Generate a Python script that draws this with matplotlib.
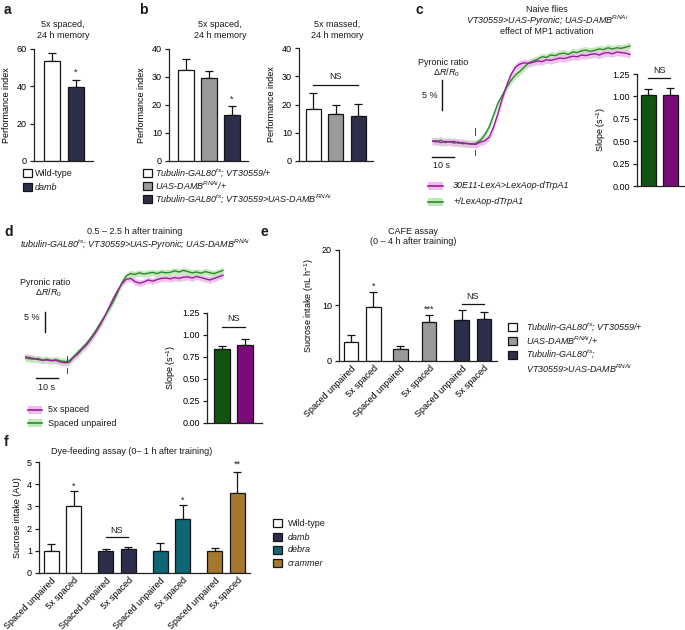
import numpy as np
import matplotlib
matplotlib.use('Agg')
import matplotlib.pyplot as plt
from matplotlib.patches import Rectangle

plt.rcParams['font.family'] = ['Liberation Sans', 'DejaVu Sans']
plt.rcParams['font.size'] = 6.5
plt.rcParams['mathtext.fontset'] = 'custom'
plt.rcParams['mathtext.rm'] = 'Liberation Sans'
plt.rcParams['mathtext.it'] = 'Liberation Sans:italic'
plt.rcParams['mathtext.bf'] = 'Liberation Sans:bold'
plt.rcParams['axes.linewidth'] = 0.9
plt.rcParams['text.color'] = '#1a1a1a'

# ---------------- data ----------------
a_labels = ['Wild-type', 'damb']
a_means = [53.5, 39.5]
a_errs = [4.5, 4.0]

b_labels = [r'Tubulin-GAL80$^{ts}$; VT30559/+', r'UAS-DAMB$^{RNAi}$/+',
            r'Tubulin-GAL80$^{ts}$; VT30559>UAS-DAMB$^{RNAi}$']
b_spaced_means = [32.5, 29.5, 16.3]
b_spaced_errs = [3.8, 2.5, 3.2]
b_massed_means = [18.5, 16.5, 15.8]
b_massed_errs = [5.5, 3.5, 4.5]

trace_time = np.arange(0, 92, 2)
c_green = [0.2, 0.0, 0.3, -0.1, 0.1, -0.2, 0.0, -0.3, -0.2, -0.4,
           -0.2, 0.3, 1.2, 2.5, 4.5, 6.5, 7.8, 9.2, 10.3, 11.2,
           11.8, 12.5, 13.2, 13.5, 13.8, 14.2, 14.1, 14.5, 14.4, 14.7,
           14.8, 14.6, 15.0, 14.9, 15.2, 15.3, 15.1, 15.3, 15.5, 15.4,
           15.7, 15.5, 15.7, 15.6, 15.8, 16.0]
c_purple = [0.1, 0.2, -0.1, 0.1, 0.0, 0.1, -0.2, -0.1, -0.3, -0.3,
            -0.4, 0.0, 0.2, 0.8, 2.5, 4.8, 7.3, 9.5, 11.3, 12.5,
            13.0, 13.2, 13.1, 13.3, 13.5, 13.4, 13.7, 13.6, 13.8, 14.0,
            13.9, 14.1, 14.3, 14.2, 14.5, 14.4, 14.6, 14.7, 14.5, 14.8,
            14.9, 14.7, 15.0, 14.9, 14.8, 14.6]
c_sem = 0.6
c_labels = ['30E11-LexA>LexAop-dTrpA1', '+/LexAop-dTrpA1']
c_slope_means = [1.02, 1.02]
c_slope_errs = [0.06, 0.07]

d_green = [0.5, 0.3, 0.2, 0.4, 0.0, 0.2, -0.1, 0.1, -0.2, -0.4,
           -0.3, 0.8, 1.9, 3.0, 4.2, 5.6, 7.2, 9.0, 10.8, 12.6,
           14.5, 16.8, 19.3, 21.0, 21.6, 21.4, 21.8, 21.5, 21.7, 21.9,
           21.6, 22.0, 21.8, 21.9, 22.3, 22.0, 22.4, 22.1, 21.8, 22.0,
           21.7, 22.1, 21.8, 21.6, 22.0, 22.4]
d_purple = [0.8, 0.6, 0.4, 0.1, -0.1, 0.0, -0.2, -0.1, -0.5, -0.7,
            -0.6, 0.6, 1.5, 2.7, 3.8, 5.2, 6.8, 8.6, 10.6, 12.9,
            15.2, 17.3, 19.0, 20.2, 20.4, 19.6, 19.2, 19.5, 20.0, 19.7,
            20.1, 20.4, 20.5, 20.3, 20.6, 20.4, 20.7, 20.8, 20.5, 20.9,
            20.6, 20.3, 20.0, 20.4, 20.8, 21.2]
d_sem = 0.8
d_labels = ['5x spaced', 'Spaced unpaired']
d_slope_means = [0.84, 0.89]
d_slope_errs = [0.04, 0.07]

e_ticklabels = ['Spaced unpaired', '5x spaced'] * 3
e_means = [3.5, 9.7, 2.2, 7.1, 7.3, 7.5]
e_errs = [1.2, 2.8, 0.5, 1.2, 1.8, 1.4]
e_labels = [r'Tubulin-GAL80$^{ts}$; VT30559/+', r'UAS-DAMB$^{RNAi}$/+',
            'Tubulin-GAL80$^{ts}$;\nVT30559>UAS-DAMB$^{RNAi}$']

f_ticklabels = ['Spaced unpaired', '5x spaced'] * 4
f_means = [1.0, 3.0, 1.0, 1.1, 1.0, 2.45, 1.0, 3.62]
f_errs = [0.3, 0.7, 0.08, 0.07, 0.35, 0.6, 0.13, 0.95]
f_labels = ['Wild-type', 'damb', 'debra', 'crammer']

# ---------------- style ----------------
WHITE, GRAY, NAVY = '#ffffff', '#9a9a9a', '#2c2e4c'
TEAL, BROWN = '#0f6775', '#a5782f'
DGREEN, DPURPLE = '#115511', '#7a0c7a'
TGREEN, TPURPLE = '#2c8a2c', '#9c1c9c'
SGREEN, SPURPLE = '#bfe6b8', '#ebbdeb'
EDGE = '#151515'

W, H = 685, 630
fig = plt.figure(figsize=(W / 100, H / 100), dpi=100)
ov = fig.add_axes([0, 0, 1, 1])
ov.set_xlim(0, W)
ov.set_ylim(H, 0)
ov.axis('off')


def pax(l, t, r, b):
    ax = fig.add_axes([l / W, 1 - b / H, (r - l) / W, (b - t) / H])
    ax.set_facecolor('none')
    return ax


def bar_panel(ax, pos, means, errs, colors, ylim, yticks, xlim, width, fmt=None):
    ax.bar(pos, means, width=width, color=colors, edgecolor=EDGE, linewidth=0.9, zorder=2)
    ax.errorbar(pos, means, yerr=[np.zeros(len(errs)), errs], fmt='none', ecolor=EDGE,
                elinewidth=0.9, capsize=2.6, capthick=0.9, zorder=1)
    ax.set_ylim(*ylim)
    ax.set_xlim(*xlim)
    ax.set_yticks(yticks)
    if fmt:
        ax.set_yticklabels([fmt.format(v) for v in yticks])
    for s in ['top', 'right']:
        ax.spines[s].set_visible(False)
    for s in ['left', 'bottom']:
        ax.spines[s].set_color('#222222')
    ax.tick_params(axis='y', length=3, width=0.9, pad=2, labelsize=6.5, color='#222222')
    ax.tick_params(axis='x', length=0, pad=2, labelsize=6.5)
    ax.set_xticks([])


def sig(ax, x, y, s, size=6.5):
    ax.text(x, y, s, ha='center', va='center', fontsize=size)


def ns(ax, x0, x1, y, ytext):
    ax.plot([x0, x1], [y, y], color=EDGE, lw=0.9, clip_on=False)
    ax.text((x0 + x1) / 2, ytext, 'NS', ha='center', va='center', fontsize=6.5)


def legend_patches(x, ys, colors, labels, styles, gap=3, w=9, h=8):
    for y, c, lab, st in zip(ys, colors, labels, styles):
        ov.add_patch(Rectangle((x, y - h / 2), w, h, facecolor=c, edgecolor=EDGE, lw=0.9))
        ov.text(x + w + gap, y, lab, ha='left', va='center', fontsize=6.5, style=st)


# ---------------- panel letters ----------------
for lab, (x, y) in zip('abcdef', [(4, 10), (139, 10), (416, 10), (4, 232), (261, 232), (4, 442)]):
    ov.text(x, y, lab, fontsize=10, fontweight='bold', ha='left', va='center')

# ---------------- panel a ----------------
ax = pax(34, 49, 93, 161)
bar_panel(ax, [0, 1], a_means, a_errs, [WHITE, NAVY], (0, 60), [0, 20, 40, 60],
          (-0.75, 1.71), 0.67)
ax.set_ylabel('Performance index', fontsize=6.5, labelpad=4)
sig(ax, 1, 47.5, '*')
ov.text(63, 30, '5x spaced,\n24 h memory', ha='center', va='center', fontsize=6.5, linespacing=1.35)
legend_patches(23, [173, 187], [WHITE, NAVY], a_labels, ['normal', 'italic'], gap=3)

# ---------------- panel b ----------------
ax = pax(169, 49, 248, 161)
bar_panel(ax, [0, 1, 2], b_spaced_means, b_spaced_errs, [WHITE, GRAY, NAVY], (0, 40),
          [0, 10, 20, 30, 40], (-0.74, 2.7), 0.7)
ax.set_ylabel('Performance index', fontsize=6.5, labelpad=4)
sig(ax, 2, 22.0, '*')
ov.text(220, 30, '5x spaced,\n24 h memory', ha='center', va='center', fontsize=6.5, linespacing=1.35)

ax = pax(299, 48, 373, 161)
bar_panel(ax, [0, 1, 2], b_massed_means, b_massed_errs, [WHITE, GRAY, NAVY], (0, 40),
          [0, 10, 20, 30, 40], (-0.65, 2.67), 0.67)
ax.set_ylabel('Performance index', fontsize=6.5, labelpad=4)
ns(ax, 0, 2, 27, 29.8)
ov.text(337, 30, '5x massed,\n24 h memory', ha='center', va='center', fontsize=6.5, linespacing=1.35)
legend_patches(143, [173, 186, 199], [WHITE, GRAY, NAVY], b_labels, ['italic'] * 3, gap=3)

# ---------------- panel c ----------------
ov.text(547, 9, 'Naive flies', ha='center', va='center', fontsize=6.5)
ov.text(547, 21, r'VT30559>UAS-Pyronic; UAS-DAMB$^{RNAi}$', ha='center', va='center',
        fontsize=6.5, style='italic')
ov.text(547, 32, 'effect of MP1 activation', ha='center', va='center', fontsize=6.5)

ax = pax(432, 40, 432 + 92 * 2.2, 154)
ax.axis('off')
ax.set_xlim(0, 92)
ax.set_ylim(-2, 17)
for vals, lc, sc in [(c_green, TGREEN, SGREEN), (c_purple, TPURPLE, SPURPLE)]:
    v = np.array(vals)
    ax.fill_between(trace_time, v - c_sem, v + c_sem, color=sc, lw=0, alpha=0.9)
for vals, lc in [(c_green, TGREEN), (c_purple, TPURPLE)]:
    ax.plot(trace_time, vals, color=lc, lw=1.0)
ax.plot([4.5, 4.5], [5.3, 10.3], color=EDGE, lw=1.0, clip_on=False)
ax.text(2.5, 7.8, '5 %', ha='right', va='center', fontsize=6.5)
ax.text(5.0, 13.3, 'Pyronic ratio', ha='center', va='center', fontsize=6.5)
ax.text(6.5, 11.5, r'$\Delta R/R_0$', ha='center', va='center', fontsize=6.5)
ax.plot([0, 10], [-2.5, -2.5], color=EDGE, lw=1.0, clip_on=False)
ax.text(0.3, -3.9, '10 s', ha='left', va='center', fontsize=6.5)
ax.plot([19.5, 19.5], [1.2, 2.3], color='#444444', lw=0.7, clip_on=False)
ax.plot([19.5, 19.5], [-1.3, -2.2], color='#444444', lw=0.7, clip_on=False)

ax = pax(637, 74, 685, 186)
bar_panel(ax, [0, 1], c_slope_means, c_slope_errs, [DGREEN, DPURPLE], (0, 1.25),
          [0, 0.25, 0.5, 0.75, 1.0, 1.25], (-0.52, 1.66), 0.68, fmt='{:.2f}')
ax.set_ylabel(r'Slope (s$^{-1}$)', fontsize=6.5, labelpad=3)
ns(ax, 0, 1, 1.205, 1.29)

for y, lc, sc, lab in zip([186, 202], [TPURPLE, TGREEN], [SPURPLE, SGREEN], c_labels):
    ov.add_patch(Rectangle((428, y - 4), 15, 8, facecolor=sc, edgecolor='none'))
    ov.plot([428, 443], [y, y], color=lc, lw=1.2)
    ov.text(453, y, lab, ha='left', va='center', fontsize=6.5, style='italic')

# ---------------- panel d ----------------
ov.text(135, 231, '0.5 – 2.5 h after training', ha='center', va='center', fontsize=6.5)
ov.text(135, 245, r'tubulin-GAL80$^{ts}$; VT30559>UAS-Pyronic; UAS-DAMB$^{RNAi}$',
        ha='center', va='center', fontsize=6.5, style='italic')

ax = pax(25, 264, 25 + 92 * 2.2, 372)
ax.axis('off')
ax.set_xlim(0, 92)
ax.set_ylim(-3, 24)
for vals, sc in [(d_purple, SPURPLE), (d_green, SGREEN)]:
    v = np.array(vals)
    ax.fill_between(trace_time, v - d_sem, v + d_sem, color=sc, lw=0, alpha=0.9)
for vals, lc in [(d_green, TGREEN), (d_purple, TPURPLE)]:
    ax.plot(trace_time, vals, color=lc, lw=1.0)
ax.plot([9.1, 9.1], [7.0, 12.0], color=EDGE, lw=1.0, clip_on=False)
ax.text(6.8, 10.5, '5 %', ha='right', va='center', fontsize=6.5)
ax.text(9.1, 19.3, 'Pyronic ratio', ha='center', va='center', fontsize=6.5)
ax.text(10.5, 16.8, r'$\Delta R/R_0$', ha='center', va='center', fontsize=6.5)
ax.plot([5, 15], [-4.5, -4.5], color=EDGE, lw=1.0, clip_on=False)
ax.text(10, -6.8, '10 s', ha='center', va='center', fontsize=6.5)
ax.plot([19, 19], [-0.3, 1.0], color='#444444', lw=0.7, clip_on=False)
ax.plot([19, 19], [-2.0, -3.3], color='#444444', lw=0.7, clip_on=False)

ax = pax(207, 313, 262, 423)
bar_panel(ax, [0, 1], d_slope_means, d_slope_errs, [DGREEN, DPURPLE], (0, 1.25),
          [0, 0.25, 0.5, 0.75, 1.0, 1.25], (-0.65, 1.74), 0.7, fmt='{:.2f}')
ax.set_ylabel(r'Slope (s$^{-1}$)', fontsize=6.5, labelpad=3)
ns(ax, 0, 1, 1.09, 1.19)

for y, lc, sc, lab in zip([410, 423], [TPURPLE, TGREEN], [SPURPLE, SGREEN], d_labels):
    ov.add_patch(Rectangle((28, y - 4), 14, 8, facecolor=sc, edgecolor='none'))
    ov.plot([28, 42], [y, y], color=lc, lw=1.2)
    ov.text(48, y, lab, ha='left', va='center', fontsize=6.5)

# ---------------- panel e ----------------
ov.text(413, 231, 'CAFE assay', ha='center', va='center', fontsize=6.5)
ov.text(413, 242, '(0 – 4 h after training)', ha='center', va='center', fontsize=6.5)
e_pos = [0, 1, 2.2, 3.48, 4.92, 5.92]
ax = pax(339, 250, 497, 361)
bar_panel(ax, e_pos, e_means, e_errs, [WHITE, WHITE, GRAY, GRAY, NAVY, NAVY], (0, 20),
          [0, 10, 20], (-0.53, 6.49), 0.64)
ax.set_xticks(e_pos)
ax.set_xticklabels(e_ticklabels, rotation=45, ha='right', rotation_mode='anchor', fontsize=6.5)
ax.set_ylabel(r'Sucrose intake (nL h$^{-1}$)', fontsize=6.5, labelpad=4)
sig(ax, e_pos[1], 13.5, '*')
sig(ax, e_pos[3], 9.4, '***')
ns(ax, e_pos[4], e_pos[5], 10.3, 11.7)
legend_patches(508, [327, 341, 355], [WHITE, GRAY, NAVY], e_labels[:2] + [''], ['italic'] * 3, gap=9)
ov.text(526, 361, e_labels[2], ha='left', va='center', fontsize=6.5, style='italic', linespacing=1.3)

# ---------------- panel f ----------------
ov.text(132, 452, 'Dye-feeding assay (0– 1 h after training)', ha='center', va='center', fontsize=6.5)
f_pos = [0, 1, 2.4, 3.4, 4.8, 5.8, 7.2, 8.2]
ax = pax(39, 462, 250, 573)
bar_panel(ax, f_pos, f_means, f_errs, [WHITE, WHITE, NAVY, NAVY, TEAL, TEAL, BROWN, BROWN],
          (0, 5), [0, 1, 2, 3, 4, 5], (-0.53, 8.75), 0.66)
ax.set_xticks(f_pos)
ax.set_xticklabels(f_ticklabels, rotation=45, ha='right', rotation_mode='anchor', fontsize=6.5)
ax.set_ylabel('Sucrose intake (AU)', fontsize=6.5, labelpad=4)
sig(ax, f_pos[1], 3.9, '*')
sig(ax, f_pos[5], 3.3, '*')
sig(ax, f_pos[7], 4.9, '**')
ns(ax, f_pos[2], f_pos[3], 1.62, 1.9)
legend_patches(273, [523, 537, 550, 563], [WHITE, NAVY, TEAL, BROWN], f_labels,
               ['normal', 'italic', 'italic', 'italic'], gap=6)

fig.savefig('out.png', dpi=100)
